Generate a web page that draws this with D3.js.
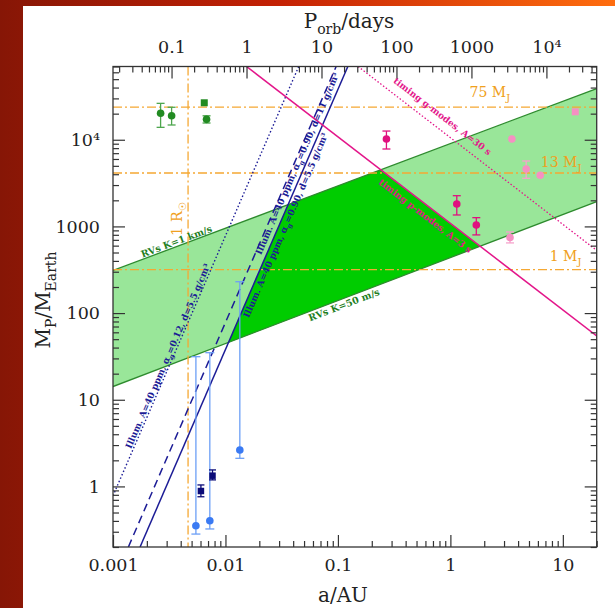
<!DOCTYPE html>
<html><head><meta charset="utf-8">
<script src="https://cdn.jsdelivr.net/npm/d3@7"></script>
<style>body{margin:0;background:#fff;} svg{display:block;}</style>
</head><body>
<svg id="chart" width="615" height="608"></svg>
<script>
// ---------------- data ----------------
const xDomain = [0.001, 20];          // a / AU
const yDomain = [0.2, 70000];         // M_P / M_Earth
const xTickValues = [0.001, 0.01, 0.1, 1, 10];
const xTickLabels = ["0.001", "0.01", "0.1", "1", "10"];
const yTickValues = [1, 10, 100, 1000, 10000];
const yTickLabels = ["1", "10", "100", "1000", "10\u2074"];
const pTickValues = [0.1, 1, 10, 100, 1000, 10000];
const pTickLabels = ["0.1", "1", "10", "100", "1000", "10\u2074"];
const aAtOneDay = 0.01539;            // a (AU) where P_orb = 1 day

// model lines: two [a, M] end points each
const rvHigh      = [[0.001, 310], [20, 39000]];     // RVs K=1 km/s
const rvLow       = [[0.001, 14.2], [20, 1930]];     // RVs K=50 m/s
const illumDotted = [[0.001, 0.78], [0.0448, 70000]];
const illumDashed = [[0.00137, 0.2], [0.0964, 70000]];
const illumSolid  = [[0.00174, 0.2], [0.1225, 70000]];
const pModeLine   = [[0.01539, 70000], [20, 54.5]];
const gModeLine   = [[0.1511, 70000], [20, 528]];
const massLimits  = [23835, 4131, 317.8];            // 75, 13, 1 M_J
const massLimitNames = ["75", "13", "1"];
const solarRadiusAU = 0.00465;

// points: [a, M, Mlow, Mhigh]
const greenCircles   = [[0.00265, 20200, 13900, 26300], [0.00332, 18900, 14800, 23700], [0.00679, 17200, 15600, 18900]];
const greenSquares   = [[0.00648, 26700, null, null]];
const magentaPoints  = [[0.270, 10200, 7820, 12600], [1.14, 1815, 1355, 2262], [1.70, 1038, 798, 1262]];
const pinkCircles    = [[3.52, 10200, null, null], [4.72, 4590, 3590, 5690], [6.29, 3890, null, null], [3.39, 745, 645, 863]];
const pinkSquares    = [[12.9, 21000, null, null]];
const lightBluePoints= [[0.00546, 0.352, 0.282, 31.4], [0.00726, 0.402, 0.323, 34.9], [0.01342, 2.63, 2.11, 230]];
const navySquares    = [[0.00605, 0.885, 0.76, 1.04], [0.00767, 1.33, 1.19, 1.55]];

// ---------------- drawing ----------------
const W = 615, H = 608;
const svg = d3.select("#chart");
const defs = svg.append("defs");
const grad = defs.append("linearGradient").attr("id", "bg").attr("x1", 0).attr("y1", 0).attr("x2", 1).attr("y2", 0);
grad.append("stop").attr("offset", 0).attr("stop-color", "#861606");
grad.append("stop").attr("offset", 0.45).attr("stop-color", "#c42104");
grad.append("stop").attr("offset", 1).attr("stop-color", "#ff6d0e");
svg.append("rect").attr("width", W).attr("height", H).attr("fill", "url(#bg)");
svg.append("rect").attr("x", 23).attr("y", 6).attr("width", W - 23).attr("height", H - 6).attr("fill", "#fff");

const L = 113, R = 596.7, T = 66.5, B = 547;
const x = d3.scaleLog().domain(xDomain).range([L, R]);
const y = d3.scaleLog().domain(yDomain).range([B, T]);
const periodOf = a => Math.pow(a / aAtOneDay, 1.5);
const p = d3.scaleLog().domain(xDomain.map(periodOf)).range([L, R]);

defs.append("clipPath").attr("id", "plotclip").append("rect")
  .attr("x", L).attr("y", T).attr("width", R - L).attr("height", B - T);
const plot = svg.append("g").attr("clip-path", "url(#plotclip)");

const pt = d => [x(d[0]), y(d[1])];
const lineGen = d3.line().x(d => x(d[0])).y(d => y(d[1]));

// intersection of two lines in log space
function intersect(l1, l2) {
  const f = l => {
    const X1 = Math.log10(l[0][0]), Y1 = Math.log10(l[0][1]);
    const X2 = Math.log10(l[1][0]), Y2 = Math.log10(l[1][1]);
    const m = (Y2 - Y1) / (X2 - X1);
    return [m, Y1 - m * X1];
  };
  const [m1, c1] = f(l1), [m2, c2] = f(l2);
  const X = (c2 - c1) / (m1 - m2);
  return [Math.pow(10, X), Math.pow(10, m1 * X + c1)];
}

// light green RV band
plot.append("path")
  .attr("d", lineGen([rvHigh[0], rvHigh[1], rvLow[1], rvLow[0]]) + "Z")
  .attr("fill", "#99e699");
// dark green accessible region
const darkPoly = [intersect(illumSolid, rvLow), intersect(illumSolid, rvHigh),
                  intersect(rvHigh, pModeLine), intersect(pModeLine, rvLow)];
plot.append("path").attr("d", lineGen(darkPoly) + "Z").attr("fill", "#00cc00");
[rvHigh, rvLow].forEach(l => plot.append("path").attr("d", lineGen(l))
  .attr("stroke", "#2e8b2e").attr("stroke-width", 1.3).attr("fill", "none"));

// orange mass limits and solar radius
const orange = "#f5a833";
massLimits.forEach(m => plot.append("line")
  .attr("x1", L).attr("x2", R).attr("y1", y(m)).attr("y2", y(m))
  .attr("stroke", orange).attr("stroke-width", 1.3).attr("stroke-dasharray", "9,3,2,3"));
plot.append("line").attr("x1", x(solarRadiusAU)).attr("x2", x(solarRadiusAU)).attr("y1", T).attr("y2", B)
  .attr("stroke", orange).attr("stroke-width", 1.3).attr("stroke-dasharray", "9,3,2,3");

// illumination lines
const navy = "#1c1c96";
plot.append("path").attr("d", lineGen(illumDotted)).attr("stroke", navy).attr("stroke-width", 1.4)
  .attr("stroke-dasharray", "1.5,2.2").attr("fill", "none");
plot.append("path").attr("d", lineGen(illumDashed)).attr("stroke", navy).attr("stroke-width", 1.5)
  .attr("stroke-dasharray", "8,5").attr("fill", "none");
plot.append("path").attr("d", lineGen(illumSolid)).attr("stroke", navy).attr("stroke-width", 1.5).attr("fill", "none");

// timing lines
const magenta = "#e3168a";
plot.append("path").attr("d", lineGen(pModeLine)).attr("stroke", magenta).attr("stroke-width", 1.5).attr("fill", "none");
plot.append("path").attr("d", lineGen(gModeLine)).attr("stroke", magenta).attr("stroke-width", 1.3)
  .attr("stroke-dasharray", "1.5,2").attr("fill", "none");

// text helper: parts = [[text, kind]], kind: n / sub / sup
function addParts(t, parts, size) {
  let shift = 0;
  parts.forEach(([s, k]) => {
    const target = k === "sub" ? size * 0.3 : (k === "sup" ? -size * 0.4 : 0);
    const ts = t.append("tspan").text(s).attr("dy", target - shift);
    if (k !== "n") ts.attr("font-size", size * 0.7);
    shift = target;
  });
}
function labelAlong(line, aStart, dyLocal, color, parts, size) {
  const p1 = pt(line[0]), p2 = pt(line[1]);
  const ang = Math.atan2(p2[1] - p1[1], p2[0] - p1[0]) * 180 / Math.PI;
  const l1 = Math.log10(line[0][0]), l2 = Math.log10(line[1][0]);
  const tt = (Math.log10(aStart) - l1) / (l2 - l1);
  const px = p1[0] + tt * (p2[0] - p1[0]), py = p1[1] + tt * (p2[1] - p1[1]);
  const t = plot.append("text")
    .attr("transform", `translate(${px},${py}) rotate(${ang})`)
    .attr("y", dyLocal).attr("font-family", "DejaVu Serif").attr("font-weight", "bold")
    .attr("font-size", size).attr("fill", color);
  addParts(t, parts, size);
}
const green = "#1f7f1f";
labelAlong(rvHigh, 0.00185, -1.5, green, [["RVs K=1 km/s", "n"]], 9.5);
labelAlong(rvLow, 0.0528, 9.5, green, [["RVs K=50 m/s", "n"]], 9.5);
labelAlong(illumDotted, 0.0015, -2, navy, [["Illum. A=40 ppm, \u03b1", "n"], ["g", "sub"], ["=0.12, d=5.5 g/cm\u00b3", "n"]], 9);
labelAlong(illumDashed, 0.0185, 6, navy, [["Illum. A=40 ppm, \u03b1", "n"], ["g", "sub"], ["=0.90, d=11 g/cm\u00b3", "n"]], 9);
labelAlong(illumSolid, 0.0136, 9, navy, [["Illum. A=40 ppm, \u03b1", "n"], ["g", "sub"], ["=0.90, d=5.5 g/cm\u00b3", "n"]], 9);
labelAlong(gModeLine, 0.275, -9, magenta, [["timing g-modes, A=30 s", "n"]], 9);
labelAlong(pModeLine, 0.266, 12.5, magenta, [["timing p-modes, A=3 s", "n"]], 9);

// mass-limit labels
const mLabelA = [3.4, 14.6, 14.6];
const mLabelUp = [10, 6, 9];
massLimits.forEach((m, i) => {
  const t = plot.append("text").attr("x", x(mLabelA[i])).attr("y", y(m) - mLabelUp[i])
    .attr("text-anchor", "end").attr("font-family", "DejaVu Serif").attr("font-size", 14).attr("fill", "#f0a020");
  addParts(t, [[massLimitNames[i] + " M", "n"], ["J", "sub"]], 14);
});
{
  const t = plot.append("text").attr("transform", `translate(${x(solarRadiusAU) - 6},219) rotate(-90)`)
    .attr("text-anchor", "middle").attr("font-family", "DejaVu Serif").attr("font-size", 14.5).attr("fill", "#f0a020");
  addParts(t, [["1 R", "n"], ["\u2609", "sub"]], 14.5);
}

// data points
const pts = svg.append("g");
function errorBars(data, color, cap, width) {
  const d2 = data.filter(d => d[2] != null);
  const g = pts.append("g").attr("stroke", color).attr("stroke-width", width);
  g.selectAll(".v").data(d2).join("line").attr("x1", d => x(d[0])).attr("x2", d => x(d[0]))
    .attr("y1", d => y(d[2])).attr("y2", d => y(d[3]));
  g.selectAll(".lo").data(d2).join("line").attr("x1", d => x(d[0]) - cap / 2).attr("x2", d => x(d[0]) + cap / 2)
    .attr("y1", d => y(d[2])).attr("y2", d => y(d[2]));
  g.selectAll(".hi").data(d2).join("line").attr("x1", d => x(d[0]) - cap / 2).attr("x2", d => x(d[0]) + cap / 2)
    .attr("y1", d => y(d[3])).attr("y2", d => y(d[3]));
}
function circles(data, color, r) {
  pts.append("g").selectAll("circle").data(data).join("circle")
    .attr("cx", d => x(d[0])).attr("cy", d => y(d[1])).attr("r", r).attr("fill", color);
}
function squares(data, color, s) {
  pts.append("g").selectAll("rect").data(data).join("rect")
    .attr("x", d => x(d[0]) - s / 2).attr("y", d => y(d[1]) - s / 2).attr("width", s).attr("height", s).attr("fill", color);
}
errorBars(greenCircles, "#4ea64e", 8, 1.3);
circles(greenCircles, "#228b22", 3.8);
squares(greenSquares, "#228b22", 7);
errorBars(magentaPoints, "#e0107f", 8, 1.3);
circles(magentaPoints, "#e0107f", 3.8);
errorBars(pinkCircles, "#f6a3cc", 8, 1.3);
circles(pinkCircles, "#f590c2", 3.8);
squares(pinkSquares, "#f590c2", 7);
errorBars(lightBluePoints, "#6c9ff6", 9, 1.3);
circles(lightBluePoints, "#3a7af3", 3.8);
errorBars(navySquares, "#0b0b78", 7, 1.3);
squares(navySquares, "#0b0b78", 6.5);

// axes
const axG = svg.append("g");
function styleAxis(g) {
  g.select(".domain").remove();
  g.selectAll(".tick line").attr("stroke", "#333").attr("stroke-width", 1.2);
  g.selectAll("text").attr("font-family", "DejaVu Serif").attr("font-size", 17.5).attr("fill", "#222");
}
const isDecade = v => Math.abs(Math.log10(v) - Math.round(Math.log10(v))) < 1e-6;
const xMinor = x.ticks().filter(v => !isDecade(v));
const yMinor = y.ticks().filter(v => !isDecade(v));
const pMinor = p.ticks().filter(v => !isDecade(v));

axG.append("g").attr("transform", `translate(0,${B})`)
  .call(d3.axisBottom(x).tickValues(xMinor).tickSize(-6).tickFormat("")).call(styleAxis);
axG.append("g").attr("transform", `translate(0,${B})`)
  .call(d3.axisBottom(x).tickValues(xTickValues).tickSize(-12).tickPadding(12).tickFormat((d, i) => xTickLabels[i])).call(styleAxis);
axG.append("g").attr("transform", `translate(0,${T})`)
  .call(d3.axisTop(p).tickValues(pMinor).tickSize(-6).tickFormat("")).call(styleAxis);
axG.append("g").attr("transform", `translate(0,${T})`)
  .call(d3.axisTop(p).tickValues(pTickValues).tickSize(-12).tickPadding(13.5).tickFormat((d, i) => pTickLabels[i])).call(styleAxis);
axG.append("g").attr("transform", `translate(${L},0)`)
  .call(d3.axisLeft(y).tickValues(yMinor).tickSize(-6).tickFormat("")).call(styleAxis);
axG.append("g").attr("transform", `translate(${L},0)`)
  .call(d3.axisLeft(y).tickValues(yTickValues).tickSize(-12).tickPadding(13).tickFormat((d, i) => yTickLabels[i])).call(styleAxis);
axG.append("g").attr("transform", `translate(${R},0)`)
  .call(d3.axisRight(y).tickValues(yMinor).tickSize(-6).tickFormat("")).call(styleAxis);
axG.append("g").attr("transform", `translate(${R},0)`)
  .call(d3.axisRight(y).tickValues(yTickValues).tickSize(-12).tickFormat("")).call(styleAxis);

svg.append("rect").attr("x", L).attr("y", T).attr("width", R - L).attr("height", B - T)
  .attr("fill", "none").attr("stroke", "#333").attr("stroke-width", 1.3);

// axis titles
{
  const t = svg.append("text").attr("x", 343).attr("y", 602).attr("text-anchor", "middle")
    .attr("font-family", "DejaVu Serif").attr("font-size", 20).attr("fill", "#222");
  addParts(t, [["a/AU", "n"]], 20);
  const t2 = svg.append("text").attr("x", 349).attr("y", 28).attr("text-anchor", "middle")
    .attr("font-family", "DejaVu Serif").attr("font-size", 20).attr("fill", "#222");
  addParts(t2, [["P", "n"], ["orb", "sub"], ["/days", "n"]], 20);
  const t3 = svg.append("text").attr("transform", "translate(50,300) rotate(-90)").attr("text-anchor", "middle")
    .attr("font-family", "DejaVu Serif").attr("font-size", 20).attr("fill", "#222");
  addParts(t3, [["M", "n"], ["P", "sub"], ["/M", "n"], ["Earth", "sub"]], 20);
}
</script>
</body></html>
